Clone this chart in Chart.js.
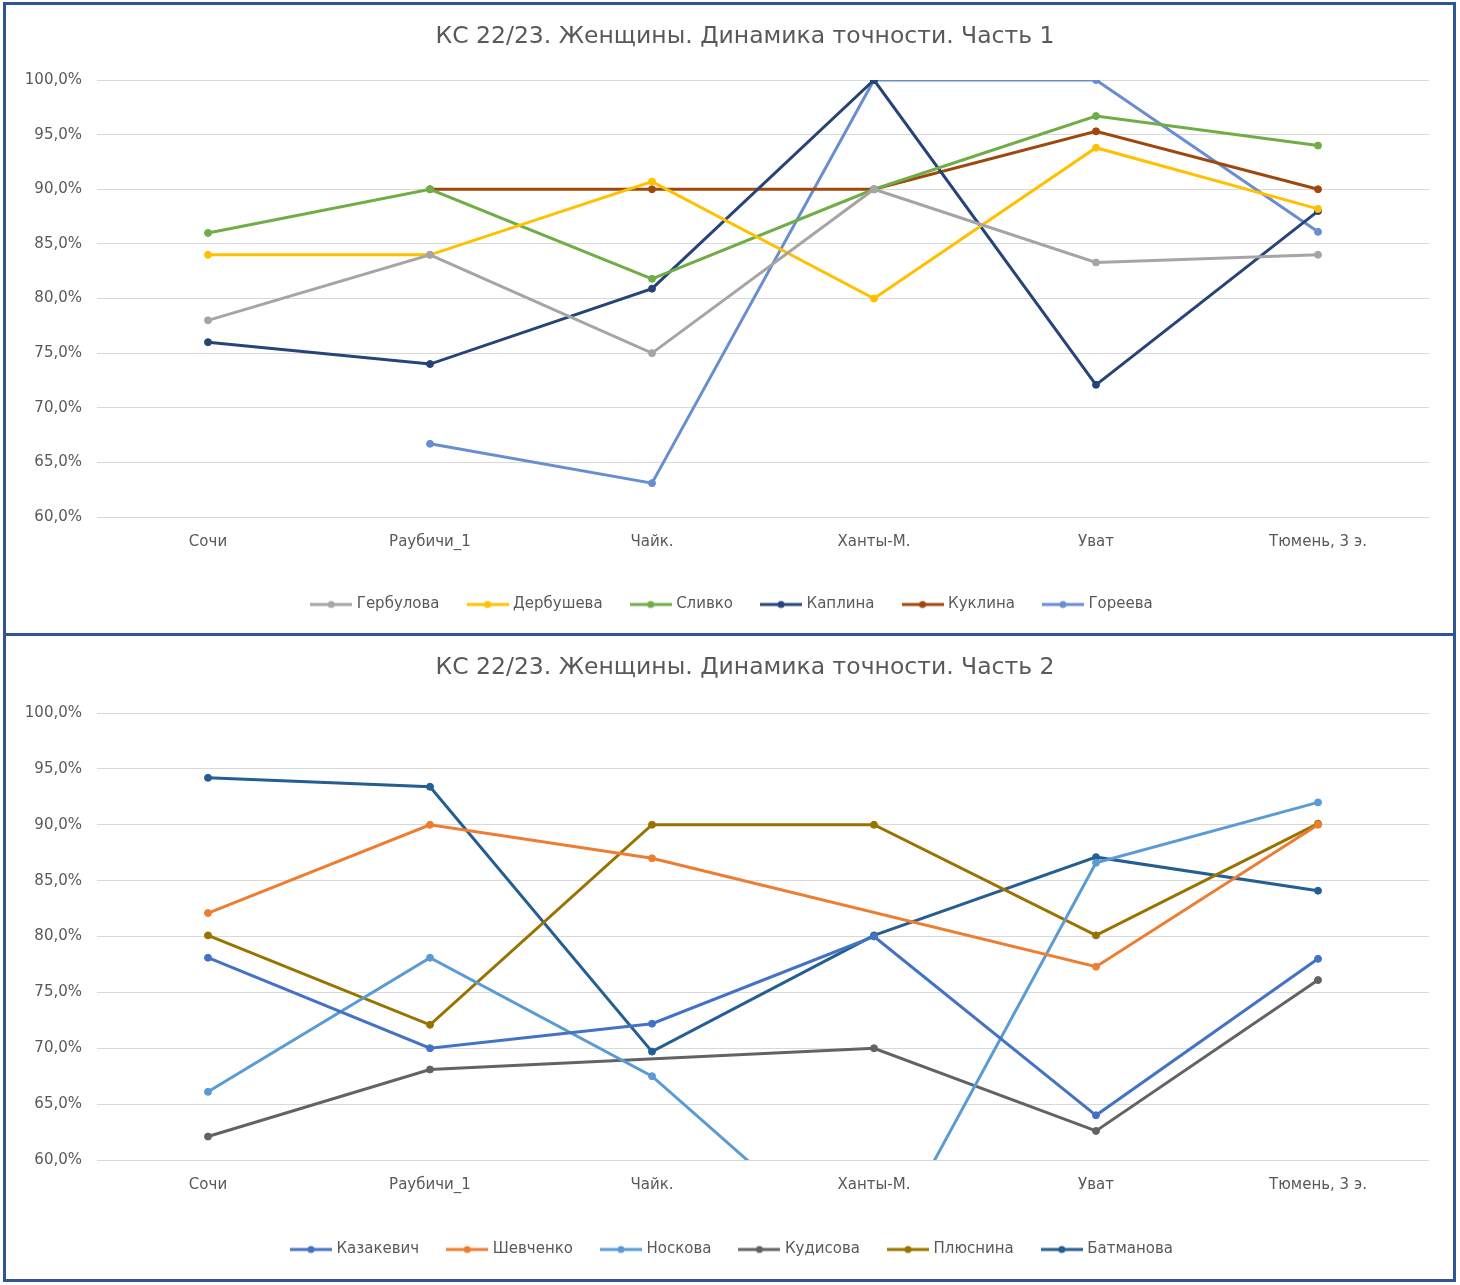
<!DOCTYPE html>
<html><head><meta charset="utf-8">
<script src="https://cdn.jsdelivr.net/npm/chart.js@4"></script>
<style>
html,body{margin:0;padding:0;background:#fff;width:1460px;height:1285px;overflow:hidden}
.box{position:absolute;left:3px;width:1453px;border:3px solid #2F5597;background:#fff;box-sizing:border-box}
#b1{top:2px;height:634px}
#b2{top:633px;height:649px}
.box canvas{display:block}
</style>
</head><body>
<div class="box" id="b1"><canvas id="c1" width="1447" height="628"></canvas></div>
<div class="box" id="b2"><canvas id="c2" width="1447" height="643"></canvas></div>
<script>
const categories = ['Сочи', 'Раубичи_1', 'Чайк.', 'Ханты-М.', 'Уват', 'Тюмень, 3 э.'];
const yTicks = [60, 65, 70, 75, 80, 85, 90, 95, 100];

const title1 = 'КС 22/23. Женщины. Динамика точности. Часть 1';
const names1 = ['Гербулова', 'Дербушева', 'Сливко', 'Каплина', 'Куклина', 'Гореева'];
const gerbulova = [78.0, 84.0, 75.0, 90.0, 83.3, 84.0];
const derbusheva = [84.0, 84.0, 90.7, 80.0, 93.8, 88.2];
const slivko = [86.0, 90.0, 81.8, 90.0, 96.7, 94.0];
const kaplina = [76.0, 74.0, 80.9, 100.0, 72.1, 88.0];
const kuklina = [null, 90.0, 90.0, 90.0, 95.3, 90.0];
const goreeva = [null, 66.7, 63.1, 100.0, 100.0, 86.1];

const title2 = 'КС 22/23. Женщины. Динамика точности. Часть 2';
const names2 = ['Казакевич', 'Шевченко', 'Носкова', 'Кудисова', 'Плюснина', 'Батманова'];
const kazakevich = [78.1, 70.0, 72.2, 80.0, 64.0, 78.0];
const shevchenko = [82.1, 90.0, 87.0, null, 77.3, 90.0];
const noskova = [66.1, 78.1, 67.5, 50.0, 86.6, 92.0];
const kudisova = [62.1, 68.1, null, 70.0, 62.6, 76.1];
const plyusnina = [80.1, 72.1, 90.0, 90.0, 80.1, 90.1];
const batmanova = [94.2, 93.4, 69.7, 80.1, 87.1, 84.1];

const colors1 = ['#A5A5A5', '#FFC000', '#70AD47', '#264478', '#9E480E', '#698ED0'];
const colors2 = ['#4472C4', '#ED7D31', '#5B9BD5', '#636363', '#997300', '#255E91'];

const FONT = '"DejaVu Sans", "Noto Sans", sans-serif';
const TXT = '#595959';

function legendIcon(color) {
  const c = document.createElement('canvas');
  c.width = 42; c.height = 10;
  const x = c.getContext('2d');
  x.strokeStyle = color; x.lineWidth = 3;
  x.beginPath(); x.moveTo(0, 5); x.lineTo(42, 5); x.stroke();
  x.fillStyle = color;
  x.beginPath(); x.arc(21, 5, 3.5, 0, Math.PI * 2); x.fill();
  return c;
}

// shifts title / legend boxes horizontally after layout (Excel centres them slightly right)
const shiftBoxes = {
  id: 'shiftBoxes',
  afterLayout(chart, args, opts) {
    if (chart.titleBlock) { chart.titleBlock.left += opts.title; chart.titleBlock.right += opts.title; }
    if (chart.legend) { chart.legend.left += opts.legend; chart.legend.right += opts.legend; }
  }
};

function makeChart(id, title, names, series, colors, cfg) {
  const datasets = series.map((d, i) => ({
    label: names[i],
    data: d,
    borderColor: colors[i],
    backgroundColor: colors[i],
    borderWidth: 3,
    pointRadius: 3.5,
    pointBorderWidth: 1,
    pointHoverRadius: 3.5,
    tension: 0,
    spanGaps: true,
    fill: false
  }));
  const icons = colors.map(legendIcon);
  return new Chart(document.getElementById(id), {
    type: 'line',
    data: { labels: categories, datasets },
    plugins: [shiftBoxes],
    options: {
      responsive: false,
      animation: false,
      devicePixelRatio: 1,
      layout: { padding: { left: 5, right: 24, top: 0, bottom: cfg.padB } },
      plugins: {
        shiftBoxes: { title: 25, legend: 13 },
        title: {
          display: true, text: title, color: TXT,
          font: { family: FONT, size: 23.5, weight: 'normal' },
          padding: { top: 17.7, bottom: cfg.titleB }
        },
        legend: {
          position: 'bottom',
          labels: {
            color: TXT,
            font: { family: FONT, size: 15 },
            usePointStyle: true,
            pointStyleWidth: 36,
            boxHeight: 10,
            padding: 30,
            generateLabels(chart) {
              const items = Chart.defaults.plugins.legend.labels.generateLabels(chart);
              items.forEach(it => { it.pointStyle = icons[it.datasetIndex]; });
              return items;
            }
          }
        },
        tooltip: { enabled: false }
      },
      scales: {
        x: {
          offset: true,
          grid: { display: false, drawTicks: false },
          border: { display: false },
          ticks: { color: TXT, font: { family: FONT, size: 15 }, padding: 16, maxRotation: 0, autoSkip: false },
          afterFit(s) { s.height = cfg.xH; }
        },
        y: {
          min: 60, max: 100,
          afterBuildTicks(s) { s.ticks = yTicks.map(v => ({ value: v })); },
          grid: { color: '#D9D9D9', lineWidth: 1, drawTicks: false },
          border: { display: false },
          ticks: {
            color: TXT, font: { family: FONT, size: 15 }, padding: 15,
            callback: v => v.toFixed(1).replace('.', ',') + '%'
          },
          afterFit(s) { s.width = 86; }
        }
      }
    }
  });
}

makeChart('c1', title1, names1, [gerbulova, derbusheva, slivko, kaplina, kuklina, goreeva], colors1,
  { padB: 11, titleB: 29.1, xH: 50 });
makeChart('c2', title2, names2, [kazakevich, shevchenko, noskova, kudisova, plyusnina, batmanova], colors2,
  { padB: 12, titleB: 31.1, xH: 52 });
</script>
</body></html>
